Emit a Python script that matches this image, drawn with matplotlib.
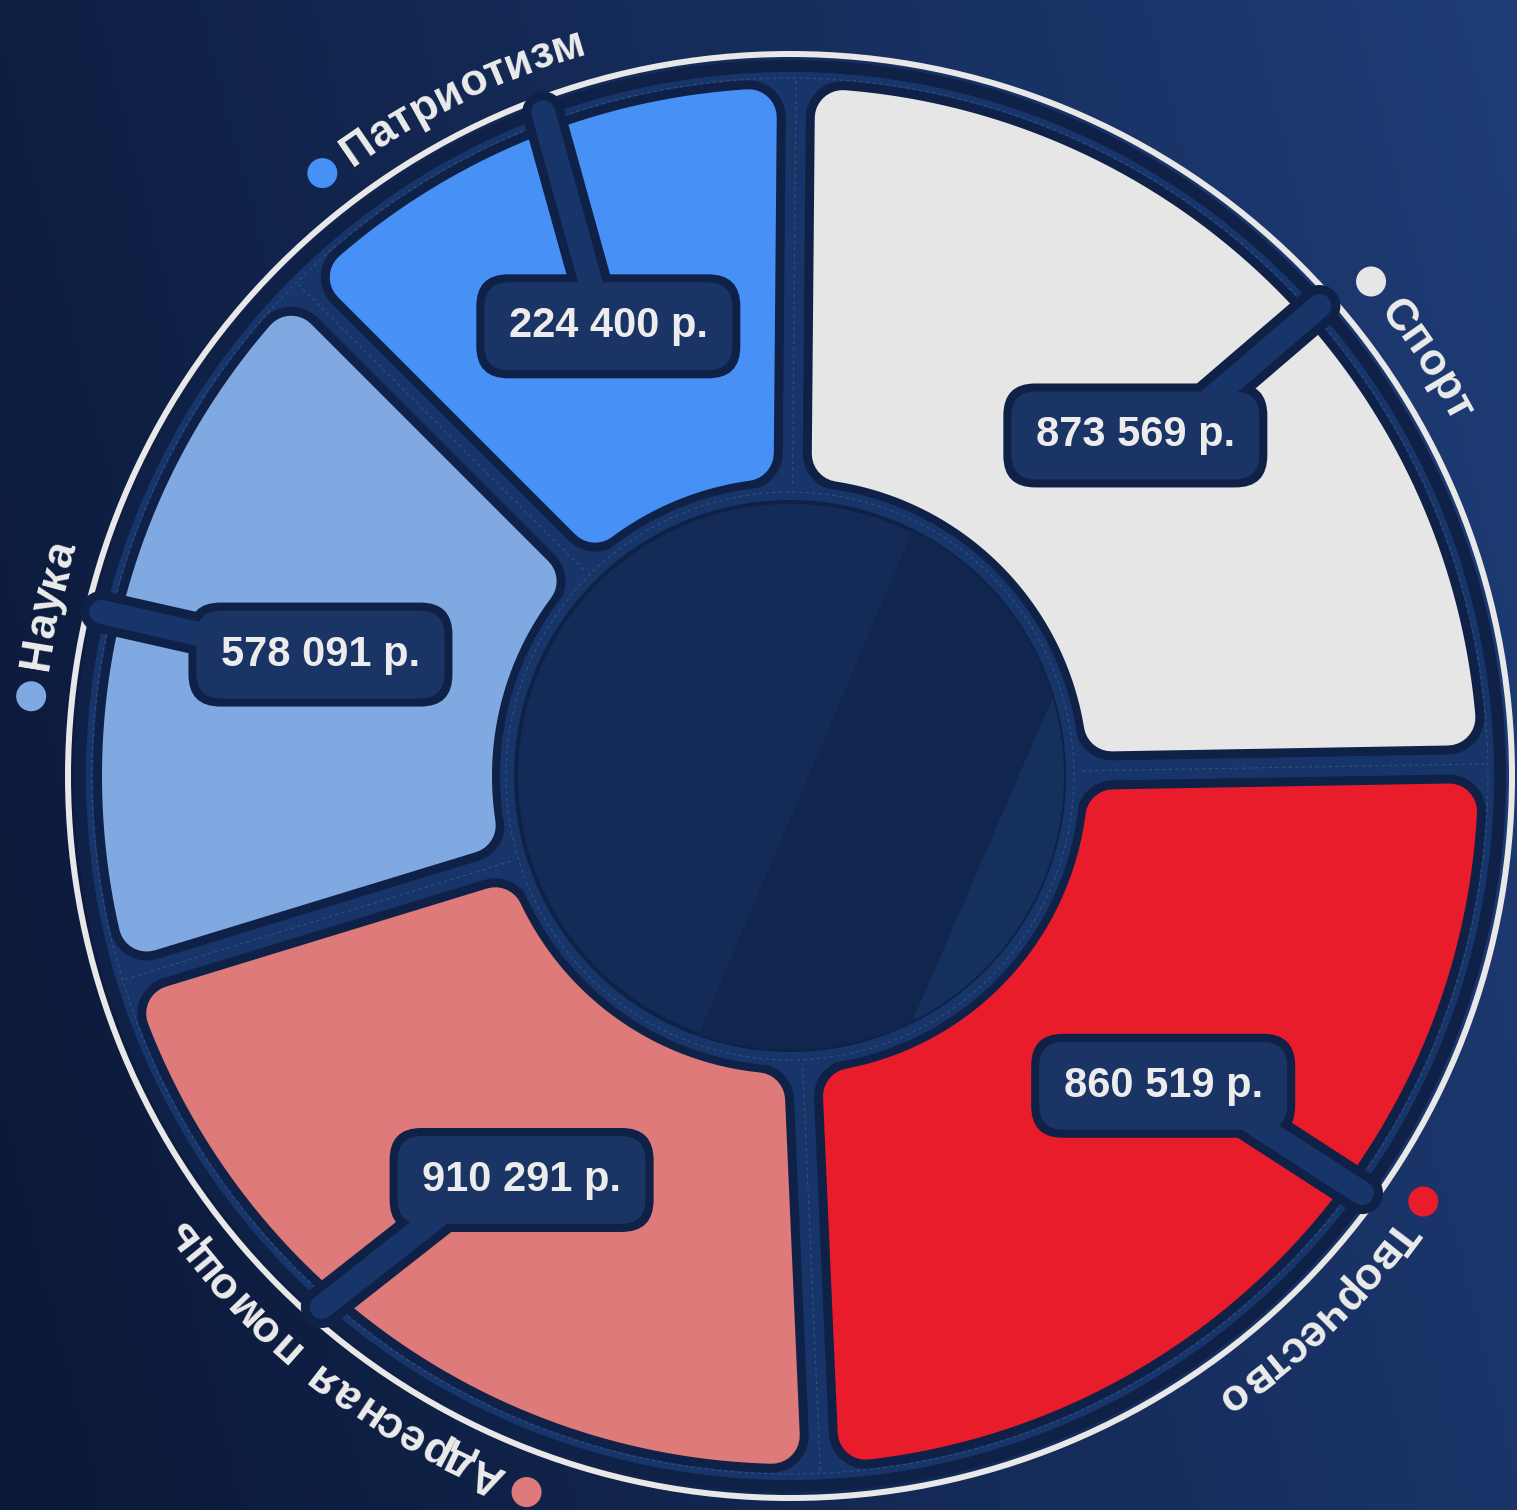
import numpy as np
import matplotlib
matplotlib.use("Agg")
import matplotlib.pyplot as plt
from matplotlib.patches import Polygon, Circle, FancyBboxPatch
from matplotlib.colors import LinearSegmentedColormap
from matplotlib.font_manager import FontProperties

# slices, clockwise from the top
names = ["Спорт", "Творчество", "Адресная помощь", "Наука", "Патриотизм"]
amounts = [873569, 860519, 910291, 578091, 224400]
colors = ["#e6e6e6", "#e81c2a", "#de7a7a", "#80a9e2", "#4790f6"]
# angular width of each slice as drawn in the source picture (deg)
spans_deg = [88.5, 88.5, 75.5, 62.0, 45.5]
start_deg = 89.5

W, H = 1517, 1510
CX, CY = 790, H - 776
PT = 0.72                       # px -> pt at dpi 100
R_OUT, R_IN, RC = 688, 298, 28  # segment fill radii + corner rounding
HALF_GAP, OUTLINE = 19, 9
DARK, MID, BOX = "#0f2147", "#183569", "#1b3466"
TXT = "#ececec"

fig = plt.figure(figsize=(W / 100, H / 100), dpi=100)
ax = fig.add_axes([0, 0, 1, 1])
ax.set_xlim(0, W); ax.set_ylim(0, H); ax.axis("off")

# background gradient
xx, yy = np.meshgrid(np.linspace(0, 1, 300), np.linspace(0, 1, 300))
bg = LinearSegmentedColormap.from_list("bg", ["#0b1837", "#1e3c76"])
ax.imshow(0.8 * xx + 0.2 * yy, extent=[0, W, 0, H], origin="lower",
          cmap=bg, vmin=0, vmax=1, aspect="auto", zorder=0)


def pol(r, t):
    return CX + r * np.cos(t), CY + r * np.sin(t)


# outer rings
ax.add_patch(Circle((CX, CY), 722, fc="none", ec="#e8e8e8", lw=6 * PT, zorder=1))
ax.add_patch(Circle((CX, CY), 716, fc=DARK, ec="none", zorder=1))
ax.add_patch(Circle((CX, CY), 704, fc=MID, ec="none", zorder=1))
ax.add_patch(Circle((CX, CY), 698, fc="none", ec="#4a6a9c", lw=0.8, ls=(0, (3, 3)),
                    alpha=0.5, zorder=1))


def inset_sector(a1, a2, ri, ro, d, n=240):
    t = np.linspace(a1 - np.arcsin(d / ro), a2 + np.arcsin(d / ro), n)
    outer = np.c_[pol(ro, t)]
    t = np.linspace(a2 + np.arcsin(d / ri), a1 - np.arcsin(d / ri), n)
    inner = np.c_[pol(ri, t)]
    return np.vstack([outer, inner])


edges = start_deg - np.concatenate([[0], np.cumsum(spans_deg)])
for i, col in enumerate(colors):
    a1, a2 = np.radians(edges[i]), np.radians(edges[i + 1])
    pts = inset_sector(a1, a2, R_IN + RC, R_OUT - RC, HALF_GAP + RC)
    ax.add_patch(Polygon(pts, closed=True, fc=DARK, ec=DARK, joinstyle="round",
                         lw=2 * (RC + OUTLINE) * PT, zorder=2))
    ax.add_patch(Polygon(pts, closed=True, fc=col, ec=col, joinstyle="round",
                         lw=2 * RC * PT, zorder=3))
    xs, ys = pol(np.array([292, 698]), a1)
    ax.plot(xs, ys, color="#4a6a9c", lw=0.8, ls=(0, (3, 3)), alpha=0.5, zorder=2.5)

# hub
ax.add_patch(Circle((CX, CY), 290, fc=MID, ec="none", zorder=4))
ax.add_patch(Circle((CX, CY), 284, fc="none", ec="#4a6a9c", lw=0.8, ls=(0, (3, 3)),
                    alpha=0.5, zorder=4))
hub = Circle((CX, CY), 274, fc="#142b58", ec=DARK, lw=4 * PT, zorder=4)
ax.add_patch(hub)


def ext(p, q, k=2.0):
    d = np.subtract(q, p)
    return tuple(np.add(p, -k * d)), tuple(np.add(q, k * d))


l1 = ext((913, 980), (700, 479))
l2 = ext((1057, 822), (910, 483))
band = Polygon([l1[0], l1[1], l2[1], l2[0]], closed=True, fc="#11264f", ec="none", zorder=4.1)
right = Polygon([l2[0], l2[1], (2000, 0), (2000, 1500)], closed=True, fc="#16305e",
                ec="none", zorder=4.1)
for p in (band, right):
    ax.add_patch(p)
    p.set_clip_path(hub)

# value boxes with a channel out to the rim
bw, bh = 248, 88
box_deg = [44.6, -39.7, 236.4, 165.5, 112.0]
conn_start = [(102, 40), (115, -39), (-108, -35), (-113, 14), (-21, 42)]
conn_end_deg = [41.6, -36.1, 228.6, 166.6, 110.4]
for i, v in enumerate(amounts):
    bx, by = pol(485, np.radians(box_deg[i]))
    sx, sy = bx + conn_start[i][0] * 0.6, by + conn_start[i][1] * 0.6
    ex, ey = pol(708, np.radians(conn_end_deg[i]))
    ax.plot([sx, ex], [sy, ey], color=DARK, lw=42 * PT, solid_capstyle="round", zorder=5)
    ax.add_patch(FancyBboxPatch((bx - bw / 2 - 8, by - bh / 2 - 8), bw + 16, bh + 16,
                                boxstyle="round,pad=0,rounding_size=32",
                                fc=DARK, ec="none", zorder=5))
    ax.plot([sx, ex], [sy, ey], color=MID, lw=24 * PT, solid_capstyle="round", zorder=6)
    ax.add_patch(FancyBboxPatch((bx - bw / 2, by - bh / 2), bw, bh,
                                boxstyle="round,pad=0,rounding_size=25",
                                fc=BOX, ec="none", zorder=7))
    ax.text(bx, by, f"{v:,}".replace(",", " ") + " р.", ha="center", va="center",
            color=TXT, fontsize=30, fontweight="bold", family="Liberation Sans", zorder=8)

# curved category names around the rim
fp = FontProperties(family="Liberation Sans", weight="bold", size=32)
renderer = fig.canvas.get_renderer()


def tw(s):
    return renderer.get_text_width_height_descent(s, fp, ismath=False)[0]


wI = tw("I")


def prefix_w(s):
    return tw(s + "I") - wI if s else 0.0


dot_deg = [40.4, -33.9, 249.8, 174.0, 127.8]
R_BASE, R_DOT = 750, 763
SPACE_EXTRA = 13
for i, name in enumerate(names):
    td = np.radians(dot_deg[i])
    ax.add_patch(Circle(pol(R_DOT, td), 15, fc=colors[i], ec="none", zorder=8))
    t0 = td - 27 / R_BASE
    extra = 0.0
    for k, ch in enumerate(name):
        if ch == " ":
            extra += SPACE_EXTRA
            continue
        s = (prefix_w(name[:k]) + prefix_w(name[:k + 1])) / 2 + extra
        t = t0 - s / R_BASE
        ax.text(*pol(R_BASE, t), ch, rotation=np.degrees(t) - 90,
                rotation_mode="anchor", ha="center", va="baseline",
                fontproperties=fp, color=TXT, zorder=8)

fig.savefig("out.png", dpi=100)
